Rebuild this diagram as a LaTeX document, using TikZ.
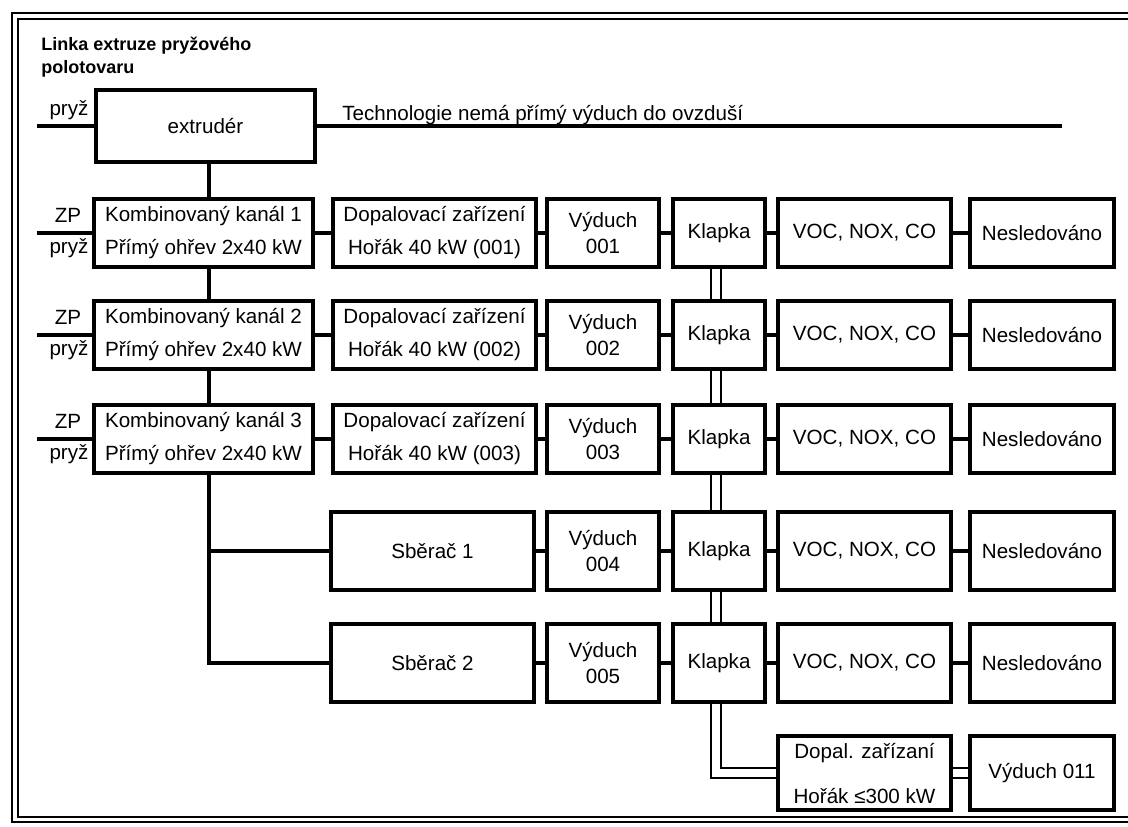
\documentclass[tikz,border=0pt]{standalone}
\usepackage{fontspec}
\setmainfont{Liberation Sans}
\usetikzlibrary{positioning,backgrounds}
\newcommand{\blkfont}{\fontsize{10.3}{16.5}\selectfont}
\tikzset{
  blk/.style={draw,line width=1.7pt,fill=white,inner sep=0pt,align=center,font=\blkfont},
  kanbox/.style={blk,minimum width=109.5pt,minimum height=34pt},
  dopbox/.style={blk,minimum width=101.5pt,minimum height=34pt},
  vydbox/.style={blk,minimum width=56pt,minimum height=34pt,font=\fontsize{10.3}{13}\selectfont},
  klbox/.style={blk,minimum width=46pt,minimum height=34pt},
  vocbox/.style={blk,minimum width=86.5pt,minimum height=34pt},
  nesbox/.style={blk,minimum width=72pt,minimum height=34pt},
  conn/.style={line width=1.7pt},
  dbl/.style={double,double distance=3.6pt,line width=1pt},
  frm/.style={line width=1.3pt},
  lbl/.style={font=\blkfont,inner sep=0pt},
}
\begin{document}
\begin{tikzpicture}[x=0.5pt,y=-0.5pt]
  \useasboundingbox (0,0) rectangle (1128,826);
  % double frame, open on the right
  \draw[frm] (1128,13) -- (12,13) -- (12,822) -- (1128,822);
  \draw[frm] (1128,19) -- (18,19) -- (18,817) -- (1128,817);
  \node[anchor=north west,align=left,inner sep=0pt,font=\bfseries\fontsize{9}{11.5}\selectfont] (title) at (41,37) {Linka extruze pryžového\\polotovaru};
  % extruder
  \node[blk,minimum width=109.5pt,minimum height=36pt] (ext) at (205.5,126) {extrudér};
  \node[lbl] (pryzx) at (69,110) {pryž};
  \coordinate (inx) at (37,126);
  \coordinate (techend) at (1062,126);
  \node[lbl,anchor=base west] (tech) at (342,120) {Technologie nemá přímý výduch do ovzduší};
  % channels 1-3
  \foreach \i/\y in {1/233,2/335,3/439}{
    \node[kanbox] (kan\i) at (203.5,\y) {Kombinovaný kanál \i\\Přímý ohřev 2x40 kW};
    \node[dopbox] (dop\i) at (434.5,\y) {Dopalovací zařízení\\Hořák 40 kW (00\i)};
    \node[lbl] (zp\i) at (68,\y-18) {ZP};
    \node[lbl] (pr\i) at (69,\y+15) {pryž};
    \coordinate (in\i) at (37,\y);
  }
  % collectors
  \foreach \i/\y in {1/551,2/663}{
    \node[dopbox,minimum height=39pt] (sb\i) at (432.5,\y) {Sběrač \i};
  }
  % outlets, flaps, measured substances
  \foreach \i/\y/\h in {1/233/34pt,2/335/34pt,3/439/34pt,4/551/39pt,5/663/39pt}{
    \node[vydbox,minimum height=\h] (vy\i) at (603,\y) {Výduch\\00\i};
    \node[klbox,minimum height=\h] (kl\i) at (719,\y) {Klapka};
    \node[vocbox,minimum height=\h] (voc\i) at (864.5,\y) {VOC, NOX, CO};
    \node[nesbox,minimum height=\h] (nes\i) at (1042,\y) {Nesledováno};
  }
  % common afterburner
  \node[blk,minimum width=86.5pt,minimum height=37pt,font=\fontsize{10.3}{22.5}\selectfont] (dpl) at (864.5,773) {Dopal. zařízaní\\Hořák ≤300 kW};
  \node[nesbox,minimum height=37pt] (vy11) at (1042,773) {Výduch 011};
  % connectors
  \begin{scope}[on background layer]
    \draw[conn] (inx) -- (ext);
    \draw[conn] (ext) -- (techend);
    \coordinate (trunk) at (209,0);
    \draw[conn] (ext.south -| trunk) -- (kan1.north -| trunk);
    \draw[conn] (kan1.south -| trunk) -- (kan2.north -| trunk);
    \draw[conn] (kan2.south -| trunk) -- (kan3.north -| trunk);
    \draw[conn] (kan3.south -| trunk) |- (sb2.west);
    \draw[conn] (trunk |- sb1) -- (sb1.west);
    \foreach \i in {1,2,3}{
      \draw[conn] (in\i) -- (kan\i);
      \draw[conn] (kan\i) -- (dop\i);
      \draw[conn] (dop\i) -- (vy\i);
    }
    \foreach \i/\j in {1/4,2/5}{
      \draw[conn] (sb\i) -- (vy\j);
    }
    \foreach \i in {1,...,5}{
      \draw[conn] (vy\i) -- (kl\i) -- (voc\i) -- (nes\i);
    }
    \foreach \i/\j in {1/2,2/3,3/4,4/5}{
      \draw[dbl] ([xshift=-1.5pt]kl\i.south) -- ([xshift=-1.5pt]kl\j.north);
    }
    \draw[dbl] ([xshift=-1.5pt]kl5.south) |- (dpl.west);
    \draw[dbl] (dpl) -- (vy11);
  \end{scope}
\end{tikzpicture}
\end{document}
